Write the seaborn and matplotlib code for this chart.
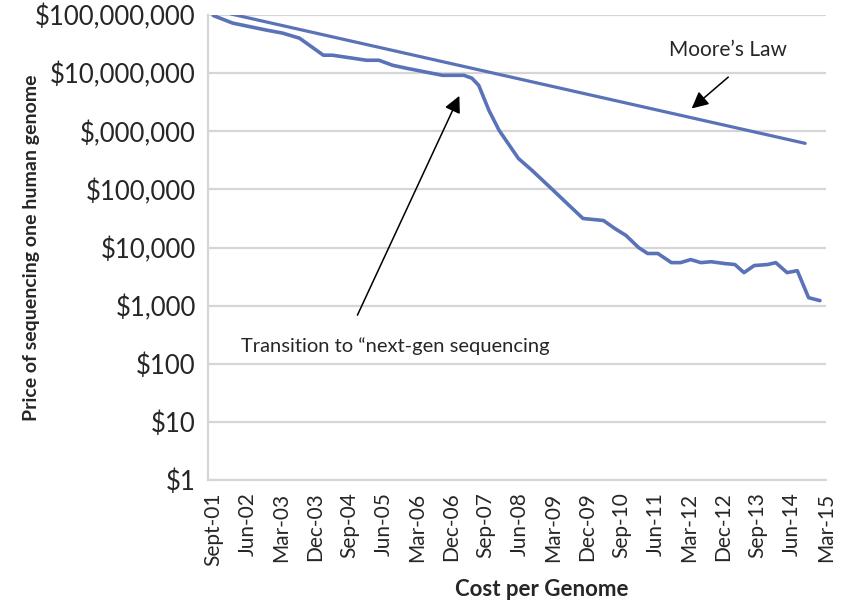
import matplotlib
matplotlib.use("Agg")
import matplotlib.pyplot as plt
import seaborn as sns

# quarters counted from Sept-01
genome_q = [0, 1.7, 4.7, 6.1, 7.6, 8.5, 9.7, 10.5, 13.5, 14.6, 15.8, 17, 18.8, 20.2,
            22.1, 22.8, 23.4, 24.3, 25.2, 26.9, 28.1, 29.8, 31.1, 32.6, 34.4, 35.4,
            36.4, 37.5, 38.3, 39.2, 40.4, 41.2, 42.1, 43, 43.9, 45.1, 46, 46.8, 47.7,
            48.9, 49.6, 50.6, 51.5, 52.5, 53.5]
genome_cost = [98e6, 72.8e6, 55e6, 49e6, 40e6, 30e6, 20.4e6, 20.4e6, 16.7e6, 16.7e6,
               13.7e6, 12.2e6, 10.4e6, 9.2e6, 9.2e6, 8.2e6, 6.2e6, 2.3e6, 1.04e6,
               342e3, 213e3, 104e3, 59.7e3, 31.6e3, 29.2e3, 21.3e3, 16.1e3, 10e3,
               7.9e3, 7.9e3, 5.5e3, 5.5e3, 6.2e3, 5.5e3, 5.7e3, 5.3e3, 5.1e3, 3.7e3,
               4.9e3, 5.1e3, 5.5e3, 3.7e3, 4.0e3, 1.37e3, 1.22e3]

moore_q = [1.5, 52.2]
moore_cost = [1.05e8, 6.2e5]

tick_q = list(range(0, 55, 3))
tick_labels = ["Sept-01", "Jun-02", "Mar-03", "Dec-03", "Sep-04", "Jun-05", "Mar-06",
               "Dec-06", "Sep-07", "Jun-08", "Mar-09", "Dec-09", "Sep-10", "Jun-11",
               "Mar-12", "Dec-12", "Sep-13", "Jun-14", "Mar-15"]
y_ticks = [1, 10, 100, 1e3, 1e4, 1e5, 1e6, 1e7, 1e8]
y_labels = ["$1", "$10", "$100", "$1,000", "$10,000", "$100,000", "$,000,000",
            "$10,000,000", "$100,000,000"]

sns.set_style("white")
plt.rcParams["font.family"] = ["Lato", "DejaVu Sans"]

line_color = "#5a72b8"
grid_color = "#d6d6d6"

fig = plt.figure(figsize=(8.5, 6.03), dpi=100)
ax = fig.add_axes([0.245, 0.204, 0.727, 0.771])

sns.lineplot(x=genome_q, y=genome_cost, color=line_color, lw=2.6, ax=ax)
sns.lineplot(x=moore_q, y=moore_cost, color=line_color, lw=2.3, ax=ax)

ax.set_yscale("log")
ax.set_ylim(1, 1e8)
ax.set_xlim(-0.45, 54.05)
ax.set_yticks(y_ticks)
ax.set_yticklabels(y_labels, fontsize=18.5)
ax.minorticks_off()
ax.set_xticks(tick_q)
ax.set_xticklabels(tick_labels, rotation=90, fontsize=15)
ax.yaxis.grid(True, color=grid_color, lw=1.6)
ax.set_axisbelow(True)
for s in ["top", "right"]:
    ax.spines[s].set_visible(False)
for s in ["left", "bottom"]:
    ax.spines[s].set_color(grid_color)
    ax.spines[s].set_linewidth(1.6)
ax.tick_params(axis="both", length=5, color=grid_color, width=1.2, pad=4)

ax.set_ylabel("Price of sequencing one human genome", fontsize=14, fontweight="bold")
ax.yaxis.set_label_coords(-0.272, 0.5)
ax.set_xlabel("Cost per Genome", fontsize=16, fontweight="bold",
              fontstretch="condensed")
ax.xaxis.set_label_coords(0.54, -0.212)

ax.annotate("Moore\u2019s Law", xy=(42.0, 2.3e6), xytext=(45.4, 2.5e7),
            fontsize=15, ha="center", va="center")
ax.annotate("", xy=(42.0, 2.3e6), xytext=(45.6, 9.2e6),
            arrowprops=dict(arrowstyle="-|>,head_length=1.0,head_width=0.5",
                            color="black", lw=1.1))
ax.annotate("", xy=(21.8, 4.5e6), xytext=(12.6, 620),
            arrowprops=dict(arrowstyle="-|>,head_length=1.0,head_width=0.5",
                            color="black", lw=1.1))
ax.text(2.4, 204, "Transition to \u201cnext-gen sequencing", fontsize=14.5,
        va="center", ha="left")

fig.savefig("out.png", dpi=100)
